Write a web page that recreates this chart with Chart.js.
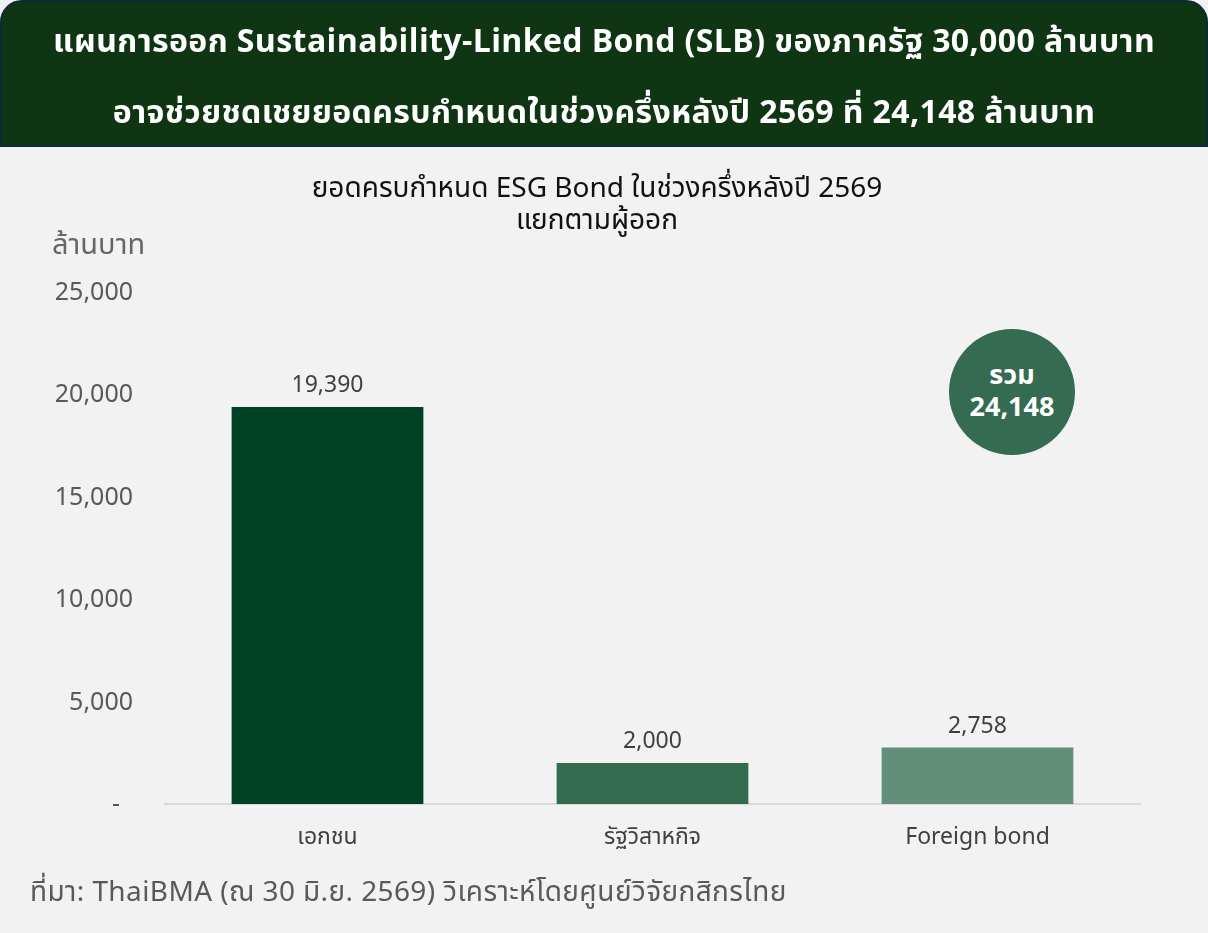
<!DOCTYPE html>
<html>
<head>
<meta charset="utf-8">
<script src="https://cdn.jsdelivr.net/npm/chart.js@4"></script>
<style>
  html, body { margin: 0; padding: 0; }
  body {
    width: 1208px; height: 933px; position: relative; overflow: hidden;
    background: #f2f2f2;
    font-family: "Noto Sans Thai", "Noto Sans", "DejaVu Sans", sans-serif;
  }
  .header {
    position: absolute; left: 0; top: 0; width: 1208px; height: 147px;
    box-sizing: border-box; background: #0f3513;
    border: 2px solid #0b2a3a; border-radius: 22px 22px 0 0;
    color: #fff; font-weight: bold; font-size: 32px; text-align: center;
    letter-spacing: 0.4px;
  }
  .header div { position: absolute; left: 0; width: 100%; line-height: 40px; }
  .subtitle {
    position: absolute; left: 0; top: 173px; width: 1194px; text-align: center;
    font-size: 28px; line-height: 32px; color: #111;
  }
  .unit { position: absolute; left: 52px; top: 223px; font-size: 29px; color: #666; }
  .badge {
    position: absolute; left: 949px; top: 329px; width: 126px; height: 126px;
    border-radius: 50%; background: #356b52; color: #fff; font-weight: bold;
    text-align: center; font-size: 27px; line-height: 32px;
    display: flex; flex-direction: column; justify-content: center;
  }
  .source {
    position: absolute; left: 30px; top: 871px; font-size: 28px; color: #595959;
    letter-spacing: 0.4px;
  }
  canvas { position: absolute; left: 0; top: 0; }
</style>
</head>
<body>
<canvas id="chart" width="1208" height="933"></canvas>
<div class="header">
  <div style="top:20px">แผนการออก Sustainability-Linked Bond (SLB) ของภาครัฐ 30,000 ล้านบาท</div>
  <div style="top:91px">อาจช่วยชดเชยยอดครบกำหนดในช่วงครึ่งหลังปี 2569 ที่ 24,148 ล้านบาท</div>
</div>
<div class="subtitle">ยอดครบกำหนด ESG Bond ในช่วงครึ่งหลังปี 2569<br>แยกตามผู้ออก</div>
<div class="unit">ล้านบาท</div>
<div class="badge" id="badge"></div>
<div class="source">ที่มา: ThaiBMA (ณ 30 มิ.ย. 2569) วิเคราะห์โดยศูนย์วิจัยกสิกรไทย</div>

<script>
// ข้อมูล
const issuers = ['เอกชน', 'รัฐวิสาหกิจ', 'Foreign bond'];
const maturing = [19390, 2000, 2758];
const barColors = ['#004225', '#336b51', '#628e7a'];
const yTicks = [0, 5000, 10000, 15000, 20000, 25000];

const fmt = v => v.toLocaleString('en-US');
const total = maturing.reduce((a, b) => a + b, 0);
document.getElementById('badge').innerHTML = '<div>รวม</div><div>' + fmt(total) + '</div>';

const font = '"Noto Sans Thai", "Noto Sans", "DejaVu Sans", sans-serif';

// แสดงค่าบนแท่ง
const valueLabels = {
  id: 'valueLabels',
  afterDatasetsDraw(chart) {
    const ctx = chart.ctx;
    const meta = chart.getDatasetMeta(0);
    meta.data.forEach((bar, i) => {
      ctx.save();
      ctx.fillStyle = '#404040';
      ctx.font = '23px ' + font;
      ctx.textAlign = 'center';
      ctx.textBaseline = 'bottom';
      ctx.fillText(fmt(maturing[i]), bar.x, bar.y - 8);
      ctx.restore();
    });
  }
};

new Chart(document.getElementById('chart'), {
  type: 'bar',
  data: {
    labels: issuers,
    datasets: [{
      data: maturing,
      backgroundColor: barColors,
      borderWidth: 0,
      barPercentage: 0.59,
      categoryPercentage: 1
    }]
  },
  options: {
    responsive: false,
    animation: false,
    layout: { padding: { top: 292, right: 68, bottom: 0, left: 0 } },
    plugins: {
      legend: { display: false },
      tooltip: { enabled: false }
    },
    scales: {
      y: {
        min: 0, max: 25000,
        afterFit: s => { s.width = 165; },
        afterBuildTicks: s => { s.ticks = yTicks.map(v => ({ value: v })); },
        grid: { display: false, drawTicks: false },
        border: { display: false },
        ticks: {
          padding: 32,
          labelOffset: 3,
          color: '#595959',
          font: { size: 25, family: font },
          callback: v => v === 0 ? '-  ' : fmt(v)   // แบบ accounting ของ Excel
        }
      },
      x: {
        afterFit: s => { s.height = 129; },
        grid: { display: false, drawTicks: false },
        border: { display: true, color: '#d9d9d9', width: 2 },
        ticks: {
          padding: 22,
          color: '#404040',
          font: { size: 23, family: font }
        }
      }
    }
  },
  plugins: [valueLabels]
});
</script>
</body>
</html>
